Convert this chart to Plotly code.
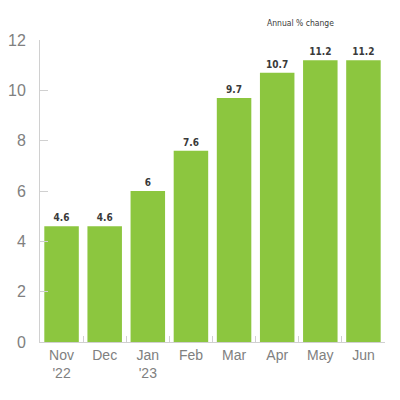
import plotly.graph_objects as go

categories = ["Nov<br>'22", "Dec", "Jan<br>'23", "Feb", "Mar", "Apr", "May", "Jun"]
values = [4.6, 4.6, 6, 7.6, 9.7, 10.7, 11.2, 11.2]
value_labels = ["4.6", "4.6", "6", "7.6", "9.7", "10.7", "11.2", "11.2"]
y_ticks = [0, 2, 4, 6, 8, 10, 12]

fig = go.Figure(go.Bar(
    x=categories, y=values,
    marker=dict(color="#8cc63f", line=dict(width=0)),
    text=value_labels, textposition="outside", cliponaxis=False,
    textfont=dict(family="DejaVu Sans Condensed", size=10, color="#3a3a3a", weight="bold"),
))

# page body has an 8px offset, so margins compensate
fig.update_layout(
    width=400, height=400,
    margin=dict(l=32, r=23, t=32, b=66),
    paper_bgcolor="white", plot_bgcolor="white",
    bargap=0.2, showlegend=False,
    annotations=[dict(
        text="Annual % change", xref="paper", yref="paper", x=0.754, y=1,
        xanchor="center", yanchor="middle",
        yshift=17, showarrow=False,
        font=dict(family="DejaVu Sans Condensed", size=8.5, color="#3a3a3a"),
    )],
)
fig.update_xaxes(
    range=[-0.5, 7.5], showline=True, linecolor="#d0d0d0", linewidth=1,
    ticks="inside", tickson="boundaries", ticklen=6, tickcolor="#d0d0d0",
    tickfont=dict(family="Liberation Sans", size=14, color="#808080"),
    showgrid=False, automargin=False,
)
fig.update_yaxes(
    range=[0, 12], tickvals=y_ticks, showline=True, linecolor="#d0d0d0",
    linewidth=1, ticks="inside", ticklen=8, tickcolor="#d0d0d0",
    tickfont=dict(family="Liberation Sans", size=16, color="#808080"),
    ticklabelstandoff=10, showgrid=False, zeroline=False, automargin=False,
)

fig.write_html("out.html")
